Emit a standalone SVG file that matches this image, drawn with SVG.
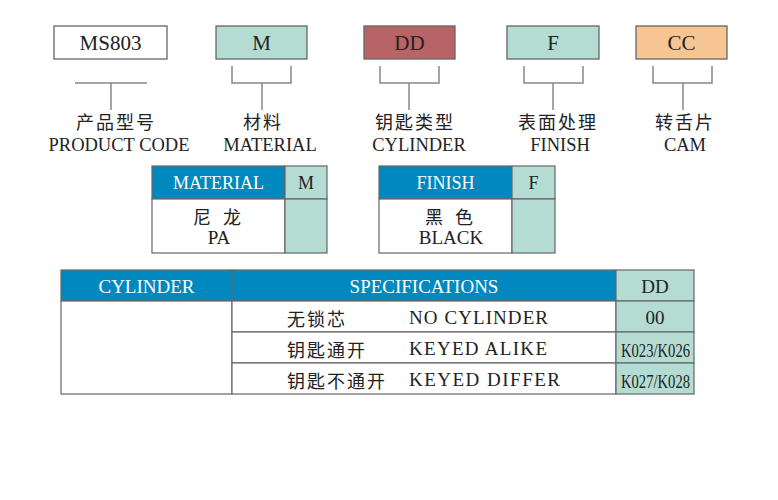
<svg xmlns="http://www.w3.org/2000/svg" width="778" height="500" viewBox="0 0 778 500">
<style>
.box{stroke:#666;stroke-width:1.3}
.br{fill:none;stroke:#888;stroke-width:1.5}
.cn{letter-spacing:2px}
.cell{stroke:#666;stroke-width:1.2}
.hd{fill:#0088bf}
.tl{fill:#b4dcd3}
</style>
<rect width="778" height="500" fill="#fff"/>
<g font-family="'Liberation Serif', 'DejaVu Serif', serif" fill="#222">
<g id="code-ms803">
<rect class="box" x="54" y="26" width="113" height="33" fill="#fff"/>
<text x="110.5" y="50" font-size="21" text-anchor="middle">MS803</text>
</g>
<g id="code-m">
<rect class="box" x="216" y="26" width="91" height="33" fill="#b4dcd3"/>
<text x="261.5" y="50" font-size="21" text-anchor="middle">M</text>
</g>
<g id="code-dd">
<rect class="box" x="364" y="26" width="91" height="33" fill="#b86466"/>
<text x="409.5" y="50" font-size="21" text-anchor="middle">DD</text>
</g>
<g id="code-f">
<rect class="box" x="507" y="26" width="92" height="33" fill="#b4dcd3"/>
<text x="553" y="50" font-size="21" text-anchor="middle">F</text>
</g>
<g id="code-cc">
<rect class="box" x="636" y="26" width="91" height="33" fill="#f7c591"/>
<text x="681.5" y="50" font-size="21" text-anchor="middle">CC</text>
</g>
<g id="connectors">
<path class="br" d="M75 83H147M111 83V110"/>
<path class="br" d="M232 66V83H291V66M262 83V110"/>
<path class="br" d="M380 66V83H439V66M409 83V110"/>
<path class="br" d="M524 66V83H583V66M553 83V110"/>
<path class="br" d="M653 66V83H712V66M683 83V110"/>
</g>
<g id="label-product">
<text class="cn" x="116" y="129" font-size="18" text-anchor="middle" font-family="'Noto Sans CJK SC', sans-serif">产品型号</text>
<text x="119" y="151" font-size="18.5" text-anchor="middle">PRODUCT CODE</text>
</g>
<g id="label-material">
<text class="cn" x="263" y="129" font-size="18" text-anchor="middle" font-family="'Noto Sans CJK SC', sans-serif">材料</text>
<text x="270" y="151" font-size="18.5" text-anchor="middle">MATERIAL</text>
</g>
<g id="label-cylinder">
<text class="cn" x="415" y="129" font-size="18" text-anchor="middle" font-family="'Noto Sans CJK SC', sans-serif">钥匙类型</text>
<text x="419" y="151" font-size="18.5" text-anchor="middle">CYLINDER</text>
</g>
<g id="label-finish">
<text class="cn" x="558" y="129" font-size="18" text-anchor="middle" font-family="'Noto Sans CJK SC', sans-serif">表面处理</text>
<text x="560" y="151" font-size="18.5" text-anchor="middle">FINISH</text>
</g>
<g id="label-cam">
<text class="cn" x="685" y="129" font-size="18" text-anchor="middle" font-family="'Noto Sans CJK SC', sans-serif">转舌片</text>
<text x="685" y="151" font-size="18.5" text-anchor="middle">CAM</text>
</g>
<g id="table-material">
<rect class="cell hd" x="152" y="166" width="133" height="33"/>
<rect class="cell tl" x="285" y="166" width="42" height="33"/>
<rect class="cell" x="152" y="199" width="133" height="54" fill="#fff"/>
<rect class="cell tl" x="285" y="199" width="42" height="54"/>
<text x="218.5" y="189" font-size="18" text-anchor="middle" fill="#fff">MATERIAL</text>
<text x="306" y="189" font-size="18" text-anchor="middle">M</text>
<text x="219" y="224" font-size="18" text-anchor="middle" letter-spacing="4" font-family="'Noto Sans CJK SC', sans-serif">尼 龙</text>
<text x="219" y="244" font-size="19" text-anchor="middle">PA</text>
</g>
<g id="table-finish">
<rect class="cell hd" x="379" y="166" width="133" height="33"/>
<rect class="cell tl" x="512" y="166" width="43" height="33"/>
<rect class="cell" x="379" y="199" width="133" height="54" fill="#fff"/>
<rect class="cell tl" x="512" y="199" width="43" height="54"/>
<text x="445.5" y="189" font-size="18" text-anchor="middle" fill="#fff">FINISH</text>
<text x="533.5" y="189" font-size="18" text-anchor="middle">F</text>
<text x="451" y="224" font-size="18" text-anchor="middle" letter-spacing="4" font-family="'Noto Sans CJK SC', sans-serif">黑 色</text>
<text x="451" y="244" font-size="19" text-anchor="middle">BLACK</text>
</g>
<g id="table-cylinder">
<rect class="cell hd" x="61" y="270" width="171" height="31"/>
<rect class="cell hd" x="232" y="270" width="384" height="31"/>
<rect class="cell tl" x="616" y="270" width="78" height="31"/>
<rect class="cell" x="61" y="301" width="171" height="93" fill="#fff"/>
<rect class="cell" x="232" y="301" width="384" height="31" fill="#fff"/>
<rect class="cell" x="232" y="332" width="384" height="31" fill="#fff"/>
<rect class="cell" x="232" y="363" width="384" height="31" fill="#fff"/>
<rect class="cell tl" x="616" y="301" width="78" height="31"/>
<rect class="cell tl" x="616" y="332" width="78" height="31"/>
<rect class="cell tl" x="616" y="363" width="78" height="31"/>
<text x="146.5" y="293" font-size="19" text-anchor="middle" fill="#fff">CYLINDER</text>
<text x="424" y="293" font-size="19" text-anchor="middle" fill="#fff">SPECIFICATIONS</text>
<text x="655" y="293" font-size="19" text-anchor="middle">DD</text>
<g font-family="'Noto Sans CJK SC', sans-serif" font-size="18" letter-spacing="2">
<text x="287" y="326">无锁芯</text>
<text x="287" y="357">钥匙通开</text>
<text x="287" y="388">钥匙不通开</text>
</g>
<text x="409" y="324" font-size="19" textLength="139">NO CYLINDER</text>
<text x="409" y="355" font-size="19" textLength="138">KEYED ALIKE</text>
<text x="409" y="386" font-size="19" textLength="151">KEYED DIFFER</text>
<text x="655" y="324" font-size="19" text-anchor="middle">00</text>
<text x="621" y="357" font-size="18" textLength="69" lengthAdjust="spacingAndGlyphs">K023/K026</text>
<text x="621" y="388" font-size="18" textLength="69" lengthAdjust="spacingAndGlyphs">K027/K028</text>
</g>
</g>
</svg>
